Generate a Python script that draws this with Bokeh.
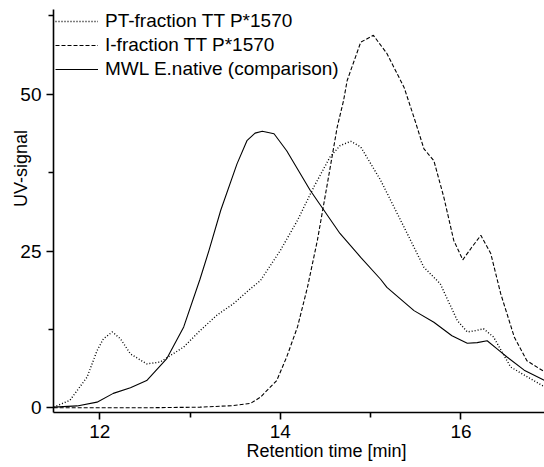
from bokeh.plotting import figure
from bokeh.models import FixedTicker, Legend, LegendItem, Range1d
from bokeh.embed import file_html
from bokeh.resources import INLINE

# ---- data ----
pt_t = [11.49, 11.67, 11.86, 11.97, 12.04, 12.14, 12.23, 12.34, 12.52, 12.67, 12.93,
        13.11, 13.30, 13.48, 13.67, 13.78, 14.00, 14.19, 14.37, 14.55, 14.66, 14.78,
        14.89, 15.11, 15.37, 15.59, 15.77, 15.96, 16.07, 16.16, 16.25, 16.36, 16.55, 16.93]
pt_v = [0.1, 1.2, 4.9, 9.1, 11.0, 12.1, 11.0, 8.6, 7.0, 7.3, 9.7,
        12.3, 14.8, 16.6, 19.0, 20.3, 25.1, 29.9, 35.2, 40.0, 41.8, 42.5,
        41.6, 36.3, 28.8, 22.4, 19.8, 13.9, 12.1, 12.3, 12.6, 11.3, 6.5, 3.3]

i_t = [11.49, 12.5, 13.11, 13.48, 13.67, 13.78, 13.96, 14.07, 14.19, 14.30, 14.41,
       14.52, 14.63, 14.70, 14.74, 14.89, 15.03, 15.18, 15.37, 15.48, 15.59, 15.70,
       15.81, 15.92, 16.02, 16.12, 16.22, 16.33, 16.44, 16.59, 16.73, 16.93]
i_v = [0.0, 0.0, 0.1, 0.35, 0.7, 1.7, 4.35, 8.1, 12.9, 19.2, 26.7,
       35.7, 44.8, 49.0, 52.2, 58.3, 59.4, 56.5, 51.1, 46.3, 41.3, 39.4,
       33.6, 26.7, 23.6, 25.6, 27.5, 24.6, 18.2, 11.3, 7.5, 5.7]

mwl_t = [11.49, 11.75, 11.97, 12.15, 12.34, 12.52, 12.74, 12.93, 13.11, 13.21, 13.34,
         13.52, 13.63, 13.72, 13.80, 13.93, 14.07, 14.33, 14.66, 14.89, 15.11, 15.18,
         15.48, 15.70, 15.90, 16.07, 16.18, 16.29, 16.40, 16.51, 16.70, 16.93]
mwl_v = [0.1, 0.3, 0.9, 2.3, 3.2, 4.35, 7.8, 12.9, 20.5, 25.1, 31.5,
         38.9, 42.6, 43.8, 44.1, 43.7, 41.0, 34.7, 27.8, 24.0, 20.5, 19.2,
         15.5, 13.65, 11.5, 10.3, 10.4, 10.7, 9.4, 8.1, 6.0, 4.35]

x_ticks = [12, 14, 16]
x_minor = [13, 15, 17]
y_ticks = [0, 25, 50]
y_minor = [12.5, 37.5, 62.5]

labels = ["PT-fraction TT P*1570", "I-fraction TT P*1570", "MWL E.native (comparison)"]
x_title = "Retention time [min]"
y_title = "UV-signal"

FONT = "Liberation Sans"
NB = "\u00a0"

p = figure(width=544, height=467, output_backend="svg", toolbar_location=None,
           x_range=Range1d(11.488, 16.925), y_range=Range1d(-0.75, 63.52),
           min_border_left=53, min_border_right=0, min_border_top=9, min_border_bottom=55)
p.grid.visible = False
p.outline_line_color = None
p.background_fill_color = "white"
p.border_fill_color = "white"

r1 = p.line(pt_t, pt_v, line_color="black", line_width=1.4, line_dash="1 2")
r2 = p.line(i_t, i_v, line_color="black", line_width=1.1, line_dash="4 2")
r3 = p.line(mwl_t, mwl_v, line_color="black", line_width=1.1)

for ax, tk, mn in ((p.xaxis[0], x_ticks, x_minor), (p.yaxis[0], y_ticks, y_minor)):
    ax.ticker = FixedTicker(ticks=tk, minor_ticks=mn)
    ax.axis_line_width = 1.6
    ax.axis_line_color = "black"
    ax.major_tick_line_width = 1.6
    ax.minor_tick_line_width = 1.6
    ax.major_tick_line_color = "black"
    ax.minor_tick_line_color = "black"
    ax.major_tick_out = 7
    ax.major_tick_in = 0
    ax.minor_tick_out = 5
    ax.minor_tick_in = 0
    ax.major_label_text_font = FONT
    ax.major_label_text_font_size = "19px"
    ax.major_label_text_color = "black"
    ax.major_label_standoff = 5
    ax.axis_label_text_font = FONT
    ax.axis_label_text_font_size = "18px"
    ax.axis_label_text_font_style = "normal"
    ax.axis_label_text_color = "black"

p.xaxis.axis_label = NB * 11 + x_title
p.xaxis.axis_label_standoff = 0
p.yaxis.axis_label = NB * 17 + y_title
p.yaxis.axis_label_standoff = -14

legend = Legend(items=[LegendItem(label=labels[0], renderers=[r1]),
                       LegendItem(label=labels[1], renderers=[r2]),
                       LegendItem(label=labels[2], renderers=[r3])],
                location=(2, 331), glyph_width=43, glyph_height=24, label_height=24,
                spacing=0, padding=0, margin=0, label_standoff=7,
                border_line_color=None, background_fill_alpha=0,
                label_text_font=FONT, label_text_font_size="19px", label_text_color="black")
p.add_layout(legend)

open("out.html", "w").write(file_html(p, INLINE))
